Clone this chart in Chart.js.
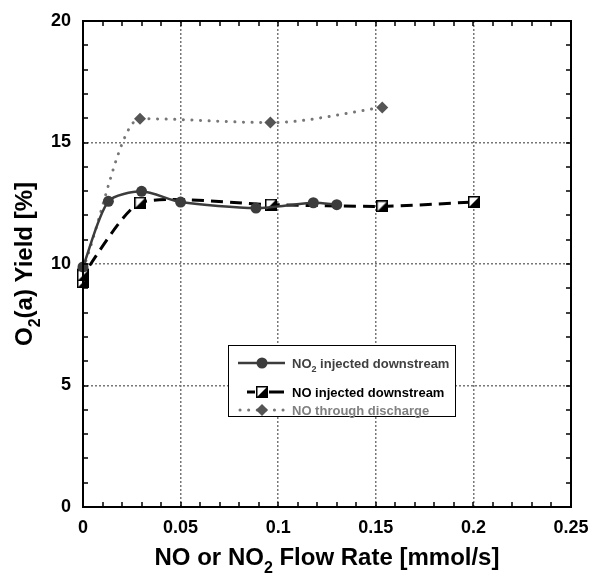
<!DOCTYPE html>
<html>
<head>
<meta charset="utf-8">
<script src="https://cdn.jsdelivr.net/npm/chart.js@4.4.0/dist/chart.umd.min.js"></script>
<style>
html, body { margin: 0; padding: 0; background: #fff; }
#wrap { width: 592px; height: 576px; }
</style>
</head>
<body>
<div id="wrap"><canvas id="yieldChart" width="592" height="576"></canvas></div>
<script>
// values
const no2X = [0, 0.013, 0.030, 0.050, 0.0886, 0.118, 0.130];
const no2Y = [9.88, 12.58, 12.99, 12.55, 12.30, 12.52, 12.44];
const noX = [0, 0, 0.0293, 0.0963, 0.1533, 0.2003];
const noY = [9.25, 9.53, 12.52, 12.44, 12.37, 12.55];
const dischX = [0, 0.0292, 0.096, 0.1533];
const dischY = [9.8, 15.98, 15.82, 16.44];

const xMin = 0, xMax = 0.25, xStep = 0.05, xMinor = 0.01;
const yMin = 0, yMax = 20, yStep = 5, yMinor = 1;

const FONT = '"Liberation Sans", Arial, sans-serif';

function toPoints(xs, ys) {
    return xs.map((x, i) => ({ x: x, y: ys[i] }));
}

// half filled square marker
function halfSquare(size) {
    const c = document.createElement('canvas');
    c.width = size; c.height = size;
    const g = c.getContext('2d');
    g.fillStyle = '#fff';
    g.fillRect(0, 0, size, size);
    g.fillStyle = '#000';
    g.beginPath();
    g.moveTo(0, size);
    g.lineTo(size, size);
    g.lineTo(size, 0);
    g.closePath();
    g.fill();
    g.strokeStyle = '#000';
    g.lineWidth = 1.5;
    g.strokeRect(0.75, 0.75, size - 1.5, size - 1.5);
    return c;
}
const squareImg = halfSquare(12);

// text with subscripts: parts = [[text, isSub], ...], centred at 0
function drawRich(ctx, parts, size, color) {
    const sub = Math.round(size * 0.66);
    let total = 0;
    parts.forEach(p => {
        ctx.font = 'bold ' + (p[1] ? sub : size) + 'px ' + FONT;
        total += ctx.measureText(p[0]).width;
    });
    let x = -total / 2;
    const base = size * 0.358;
    ctx.fillStyle = color;
    ctx.textAlign = 'left';
    ctx.textBaseline = 'alphabetic';
    parts.forEach(p => {
        ctx.font = 'bold ' + (p[1] ? sub : size) + 'px ' + FONT;
        ctx.fillText(p[0], x, p[1] ? base + size * 0.33 : base);
        x += ctx.measureText(p[0]).width;
    });
}

const decorPlugin = {
    id: 'decor',
    afterDraw(chart) {
        const ctx = chart.ctx;
        const a = chart.chartArea;
        const xs = chart.scales.x, ys = chart.scales.y;

        // frame
        ctx.save();
        ctx.strokeStyle = '#000';
        ctx.lineWidth = 2;
        ctx.strokeRect(a.left, a.top, a.right - a.left, a.bottom - a.top);

        // minor ticks, pointing inward
        ctx.lineWidth = 1.5;
        ctx.beginPath();
        for (let v = xMin + xMinor; v < xMax - 1e-9; v += xMinor) {
            const px = Math.round(xs.getPixelForValue(v));
            ctx.moveTo(px, a.bottom); ctx.lineTo(px, a.bottom - 5);
            ctx.moveTo(px, a.top); ctx.lineTo(px, a.top + 5);
        }
        for (let v = yMin + yMinor; v < yMax - 1e-9; v += yMinor) {
            const py = Math.round(ys.getPixelForValue(v));
            ctx.moveTo(a.left, py); ctx.lineTo(a.left + 5, py);
            ctx.moveTo(a.right, py); ctx.lineTo(a.right - 5, py);
        }
        ctx.stroke();
        ctx.restore();

        // axis titles
        ctx.save();
        ctx.translate((a.left + a.right) / 2, 556);
        drawRich(ctx, [['NO or NO', false], ['2', true], [' Flow Rate [mmol/s]', false]], 24, '#000');
        ctx.restore();

        ctx.save();
        ctx.translate(23, (a.top + a.bottom) / 2);
        ctx.rotate(-Math.PI / 2);
        drawRich(ctx, [['O', false], ['2', true], ['(a) Yield [%]', false]], 24, '#000');
        ctx.restore();

        // legend
        const lx = 228.5, ly = 345.5, lw = 227, lh = 71;
        ctx.save();
        ctx.fillStyle = '#fff';
        ctx.fillRect(lx, ly, lw, lh);
        ctx.strokeStyle = '#000';
        ctx.lineWidth = 1;
        ctx.strokeRect(lx, ly, lw, lh);

        const sx0 = 238, sx1 = 285, sc = 262, tx = 292;
        const r1 = 363, r2 = 392, r3 = 410;

        // row 1
        ctx.strokeStyle = '#3c3c3c';
        ctx.lineWidth = 2.5;
        ctx.beginPath(); ctx.moveTo(sx0, r1); ctx.lineTo(sx1, r1); ctx.stroke();
        ctx.fillStyle = '#3c3c3c';
        ctx.beginPath(); ctx.arc(sc, r1, 5.5, 0, Math.PI * 2); ctx.fill();

        // row 2
        ctx.strokeStyle = '#000';
        ctx.lineWidth = 3;
        ctx.beginPath();
        ctx.moveTo(247, r2); ctx.lineTo(255, r2);
        ctx.moveTo(269, r2); ctx.lineTo(284, r2);
        ctx.stroke();
        ctx.drawImage(squareImg, sc - 6, r2 - 6);

        // row 3
        ctx.strokeStyle = '#777';
        ctx.lineWidth = 3;
        ctx.lineCap = 'round';
        ctx.setLineDash([0.1, 8.5]);
        ctx.beginPath(); ctx.moveTo(240, r3); ctx.lineTo(284, r3); ctx.stroke();
        ctx.setLineDash([]);
        ctx.fillStyle = '#555';
        ctx.beginPath();
        ctx.moveTo(sc, r3 - 6); ctx.lineTo(sc + 6, r3); ctx.lineTo(sc, r3 + 6); ctx.lineTo(sc - 6, r3);
        ctx.closePath(); ctx.fill();

        const labelRow = (parts, y, color) => {
            ctx.save();
            let w = 0;
            parts.forEach(p => {
                ctx.font = 'bold ' + (p[1] ? 9 : 13) + 'px ' + FONT;
                w += ctx.measureText(p[0]).width;
            });
            ctx.translate(tx + w / 2, y);
            drawRich(ctx, parts, 13, color);
            ctx.restore();
        };
        labelRow([['NO', false], ['2', true], [' injected downstream', false]], r1, '#404040');
        labelRow([['NO injected downstream', false]], r2, '#000');
        labelRow([['NO through discharge', false]], r3, '#808080');
        ctx.restore();
    }
};

const ctx = document.getElementById('yieldChart').getContext('2d');
const yieldChart = new Chart(ctx, {
    type: 'line',
    data: {
        datasets: [{
            label: 'NO2 injected downstream',
            data: toPoints(no2X, no2Y),
            borderColor: '#3c3c3c',
            borderWidth: 2.5,
            tension: 0.25,
            pointStyle: 'circle',
            pointRadius: 5.5,
            pointBackgroundColor: '#3c3c3c',
            pointBorderWidth: 0,
            clip: false,
            order: 1
        }, {
            label: 'NO injected downstream',
            data: toPoints(noX, noY),
            borderColor: '#000',
            borderWidth: 3,
            borderDash: [12, 7],
            tension: 0.2,
            pointStyle: squareImg,
            clip: false,
            order: 2
        }, {
            label: 'NO through discharge',
            data: toPoints(dischX, dischY),
            borderColor: '#777',
            borderWidth: 3,
            borderDash: [0.1, 8.5],
            borderCapStyle: 'round',
            cubicInterpolationMode: 'monotone',
            pointStyle: 'rectRot',
            pointRadius: 6,
            pointBackgroundColor: '#555',
            pointBorderWidth: 0,
            clip: false,
            order: 3
        }]
    },
    options: {
        responsive: false,
        animation: false,
        layout: {
            padding: { top: 21, right: 21, left: 0, bottom: 0 }
        },
        plugins: {
            legend: { display: false },
            tooltip: { enabled: false }
        },
        scales: {
            x: {
                type: 'linear',
                min: xMin,
                max: xMax,
                afterFit: function(scale) {
                    scale.height = 69;
                    scale.paddingLeft = 0;
                    scale.paddingRight = 0;
                },
                ticks: {
                    stepSize: xStep,
                    padding: 10,
                    color: '#000',
                    font: { family: FONT, size: 18, weight: 'bold' },
                    callback: function(value) { return String(Number(value.toFixed(2))); }
                },
                grid: {
                    color: '#777',
                    lineWidth: 1.5,
                    drawTicks: false
                },
                border: { display: false, dash: [2, 2] }
            },
            y: {
                min: yMin,
                max: yMax,
                afterFit: function(scale) {
                    scale.width = 83;
                    scale.paddingTop = 0;
                    scale.paddingBottom = 0;
                },
                ticks: {
                    stepSize: yStep,
                    padding: 12,
                    color: '#000',
                    font: { family: FONT, size: 18, weight: 'bold' }
                },
                grid: {
                    color: '#777',
                    lineWidth: 1.5,
                    drawTicks: false
                },
                border: { display: false, dash: [2, 2] }
            }
        }
    },
    plugins: [decorPlugin]
});
</script>
</body>
</html>
